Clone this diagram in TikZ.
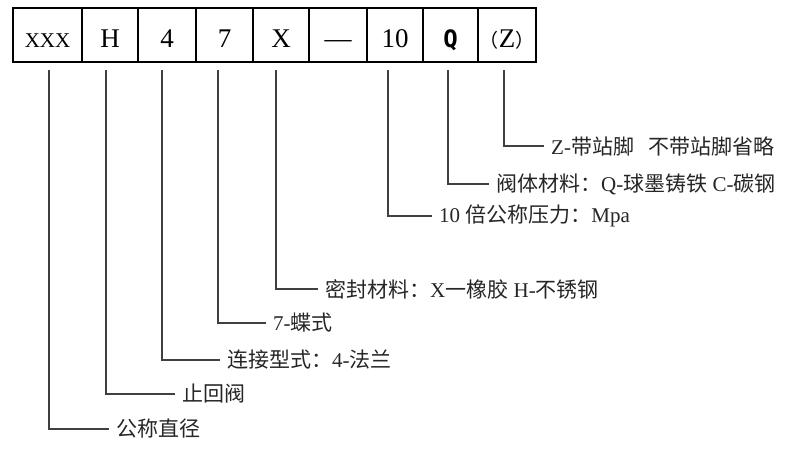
\documentclass[tikz,border=0pt]{standalone}
\usepackage{fontspec}
\setmainfont{Liberation Serif}
\newfontfamily\cjk{Noto Sans CJK SC}
\newfontfamily\qfont{DejaVu Sans Mono}
\begin{document}
\begin{tikzpicture}[x=1pt,y=-1pt,
  cell/.style={draw=black,line width=1.4pt,minimum height=54pt,inner sep=0pt,
    text height=24pt,text depth=0pt,font=\fontsize{27}{27}\selectfont},
  lab/.style={anchor=west,inner sep=0pt,text=black!85,font=\fontsize{21}{21}\selectfont},
  lead/.style={draw=black!75,line width=1.1pt,shorten >=7pt}]
\useasboundingbox[fill=white] (0,0) rectangle (790,450);
% boxes
\node[cell,minimum width=69pt] (b1) at (47.5,35) {\fontsize{21}{21}\selectfont XXX};
\node[cell,minimum width=56pt] (b2) at (110,35) {H};
\node[cell,minimum width=58pt] (b3) at (167,35) {4};
\node[cell,minimum width=57pt] (b4) at (224.5,35) {7};
\node[cell,minimum width=56pt] (b5) at (281,35) {X};
\node[cell,minimum width=58pt] (b6) at (338,35) {—};
\node[cell,minimum width=56pt] (b7) at (395,35) {10};
\node[cell,minimum width=55pt] (b8) at (450.5,35) {\qfont\bfseries\fontsize{24}{24}\selectfont Q};
\node[cell,minimum width=58pt] (b9) at (507,35) {{\cjk\fontsize{19}{19}\selectfont （}Z{\cjk\fontsize{19}{19}\selectfont ）}};
% leader start points
\coordinate (c1) at (49,70);
\coordinate (c2) at (106,70);
\coordinate (c3) at (162,70);
\coordinate (c4) at (218,70);
\coordinate (c5) at (276,70);
\coordinate (c7) at (388,70);
\coordinate (c8) at (448,70);
\coordinate (c9) at (504,70);
% labels
\node[lab] (l9) at (551,146) {Z-{\cjk 带站脚}\hspace{14pt}{\cjk 不带站脚省略}};
\node[lab] (l8) at (496,184) {{\cjk 阀体材料：}Q-{\cjk 球墨铸铁} C-{\cjk 碳钢}};
\node[lab] (l7) at (439,216) {10 {\cjk 倍公称压力：}Mpa};
\node[lab] (l5) at (325,289) {{\cjk 密封材料：}X{\cjk 一橡胶} H-{\cjk 不锈钢}};
\node[lab] (l4) at (273,323) {7-{\cjk 蝶式}};
\node[lab] (l3) at (227,360) {{\cjk 连接型式：}4-{\cjk 法兰}};
\node[lab] (l2) at (182,394) {{\cjk 止回阀}};
\node[lab] (l1) at (116,429) {{\cjk 公称直径}};
% leaders
\draw[lead] (c9) |- (l9.west);
\draw[lead] (c8) |- (l8.west);
\draw[lead] (c7) |- (l7.west);
\draw[lead] (c5) |- (l5.west);
\draw[lead] (c4) |- (l4.west);
\draw[lead] (c3) |- (l3.west);
\draw[lead] (c2) |- (l2.west);
\draw[lead] (c1) |- (l1.west);
\end{tikzpicture}
\end{document}
